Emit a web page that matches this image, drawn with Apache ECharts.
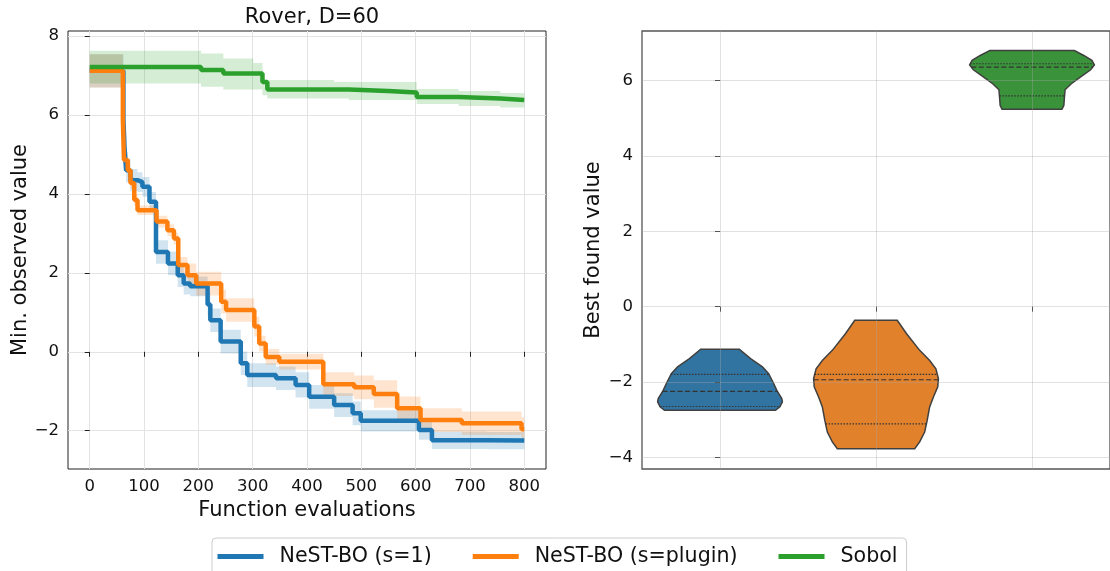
<!DOCTYPE html>
<html>
<head>
<meta charset="utf-8">
<style>
  html, body { margin: 0; padding: 0; background: #fff; }
  #chart { width: 1110px; height: 571px; }
</style>
<script src="https://cdn.jsdelivr.net/npm/echarts@6/dist/echarts.min.js"></script>
</head>
<body>
<div id="chart"></div>
<script>
// --- left panel: best-so-far curves (value holds from x until next x) ---
const blueX = [0, 62, 64, 67, 75, 88, 97, 110, 122, 144, 162, 173, 185, 217, 222, 241, 278, 290, 343, 379, 404, 450, 484, 499, 606, 630, 731, 800];
const blueY = [7.12, 5.9, 5.2, 4.6, 4.35, 4.3, 4.18, 3.8, 2.53, 2.24, 1.94, 1.73, 1.66, 1.2, 0.8, 0.26, -0.29, -0.59, -0.67, -0.84, -1.14, -1.35, -1.56, -1.75, -1.98, -2.24, -2.25, -2.25];
const blueSpread = [0.42, 0.4, 0.35, 0.3, 0.28, 0.25, 0.25, 0.25, 0.3, 0.3, 0.3, 0.28, 0.25, 0.3, 0.3, 0.3, 0.3, 0.3, 0.3, 0.32, 0.3, 0.3, 0.3, 0.27, 0.25, 0.22, 0.22, 0.22];

const orangeX = [0, 61, 63, 70, 75, 82, 88, 123, 143, 155, 163, 180, 196, 242, 251, 303, 312, 324, 349, 430, 487, 523, 566, 609, 685, 795, 800];
const orangeY = [7.12, 5.9, 4.86, 4.6, 4.28, 3.85, 3.59, 3.3, 3.08, 2.87, 2.2, 1.94, 1.73, 1.27, 1.06, 0.64, 0.21, -0.13, -0.25, -0.82, -0.9, -1.07, -1.43, -1.73, -1.81, -1.96, -1.96];
const orangeSpread = [0.42, 0.4, 0.2, 0.15, 0.15, 0.15, 0.12, 0.15, 0.15, 0.15, 0.2, 0.3, 0.3, 0.3, 0.3, 0.25, 0.2, 0.2, 0.2, 0.3, 0.3, 0.35, 0.3, 0.3, 0.3, 0.3, 0.3];

const greenX = [0, 205, 246, 301, 318, 327, 450, 477, 549, 602, 679, 756, 800];
const greenY = [7.22, 7.14, 7.05, 7.05, 6.84, 6.65, 6.65, 6.61, 6.57, 6.46, 6.42, 6.38, 6.38];
const greenHi = [7.63, 7.56, 7.43, 7.32, 6.89, 6.89, 6.84, 6.84, 6.84, 6.66, 6.61, 6.56, 6.56];
const greenLo = [6.8, 6.72, 6.65, 6.65, 6.5, 6.42, 6.42, 6.38, 6.38, 6.28, 6.23, 6.19, 6.19];

// --- right panel: violin outlines (value, relative half width) and quartiles ---
const violinCats = [0, 1, 2];
const blueVals = [-1.13, -1.38, -1.6, -1.78, -2.04, -2.22, -2.44, -2.53, -2.66, -2.75];
const blueWidths = [0.31, 0.49, 0.68, 0.78, 0.86, 0.91, 0.99, 1.0, 0.96, 0.89];
const blueQuart = [-1.8, -2.25, -2.65];
const orangeVals = [-0.36, -0.72, -1.16, -1.43, -1.65, -1.91, -2.13, -2.4, -2.66, -3.02, -3.33, -3.59, -3.77];
const orangeWidths = [0.34, 0.49, 0.7, 0.86, 0.96, 1.0, 0.99, 0.92, 0.86, 0.82, 0.78, 0.7, 0.62];
const orangeQuart = [-1.8, -1.94, -3.11];
const greenVals = [6.8, 6.67, 6.54, 6.42, 6.29, 6.1, 5.92, 5.76, 5.56, 5.34, 5.24];
const greenWidths = [0.68, 0.83, 0.96, 1.0, 0.94, 0.78, 0.63, 0.53, 0.52, 0.51, 0.48];
const greenQuart = [6.45, 6.36, 5.6];

const names = ['NeST-BO (s=1)', 'NeST-BO (s=plugin)', 'Sobol'];
const colors = ['#1f77b4', '#ff7f0e', '#2ca02c'];
const bandColors = ['rgba(31,119,180,0.2)', 'rgba(255,127,14,0.2)', 'rgba(44,160,44,0.2)'];
const violinColors = ['#3274a1', '#e1812c', '#3a923a'];

const bands = [
  { x: blueX, lo: blueY.map((y, i) => y - blueSpread[i]), hi: blueY.map((y, i) => y + blueSpread[i]) },
  { x: orangeX, lo: orangeY.map((y, i) => y - orangeSpread[i]), hi: orangeY.map((y, i) => y + orangeSpread[i]) },
  { x: greenX, lo: greenLo, hi: greenHi },
];

const violins = [
  { vals: blueVals, widths: blueWidths, quart: blueQuart },
  { vals: orangeVals, widths: orangeWidths, quart: orangeQuart },
  { vals: greenVals, widths: greenWidths, quart: greenQuart },
];

const FONT = 'DejaVu Sans';
const minus = v => String(v).replace('-', '\u2212');

function pairs(xs, ys) {
  return xs.map((x, i) => [x, ys[i]]);
}

// step-shaped confidence band, drawn as one polygon through the axes' scales
function renderBand(params, api) {
  const b = bands[params.dataIndex];
  const top = [], bottom = [];
  for (let i = 0; i < b.x.length; i++) {
    const x0 = b.x[i];
    const x1 = i + 1 < b.x.length ? b.x[i + 1] : b.x[i];
    top.push(api.coord([x0, b.hi[i]]), api.coord([x1, b.hi[i]]));
    bottom.push(api.coord([x0, b.lo[i]]), api.coord([x1, b.lo[i]]));
  }
  return {
    type: 'polygon',
    shape: { points: top.concat(bottom.reverse()) },
    style: { fill: bandColors[params.dataIndex] },
  };
}

function curve(name, xs, ys, color) {
  return {
    name: name, type: 'line', step: 'end', xAxisIndex: 0, yAxisIndex: 0,
    symbol: 'none', data: pairs(xs, ys), color: color,
    lineStyle: { width: 4.5, color: color }, z: 3,
  };
}

function widthAt(v, q) {
  for (let i = 0; i < v.vals.length - 1; i++) {
    const a = v.vals[i], b = v.vals[i + 1];
    if (q <= a && q >= b) {
      const t = (a - q) / (a - b);
      return v.widths[i] + t * (v.widths[i + 1] - v.widths[i]);
    }
  }
  return v.widths[0];
}

function renderViolin(params, api) {
  const v = violins[params.dataIndex];
  const idx = api.value(0);
  const half = api.size([1, 0])[0] * 0.4;
  const cx = api.coord([idx, 0])[0];
  const left = [], right = [];
  v.vals.forEach((val, i) => {
    const y = api.coord([idx, val])[1];
    left.push([cx - v.widths[i] * half, y]);
    right.push([cx + v.widths[i] * half, y]);
  });
  const children = [{
    type: 'polygon',
    shape: { points: left.concat(right.reverse()) },
    style: { fill: violinColors[params.dataIndex], stroke: '#404040', lineWidth: 1.5 },
  }];
  v.quart.forEach((q, k) => {
    const w = widthAt(v, q) * half;
    const y = api.coord([idx, q])[1];
    children.push({
      type: 'line',
      shape: { x1: cx - w, y1: y, x2: cx + w, y2: y },
      style: { stroke: '#333', lineWidth: 1.2, lineDash: k === 1 ? [5, 2.5] : [1.5, 1.5] },
    });
  });
  return { type: 'group', children: children };
}

const tickFont = { fontFamily: FONT, fontSize: 16.5, color: '#111' };
const nameFont = { fontFamily: FONT, fontSize: 21, color: '#111' };
const gridLine = { show: true, lineStyle: { color: '#e3e3e3', width: 1 } };
const lightGrid = { show: true, lineStyle: { color: 'rgba(170,170,170,0.35)', width: 1 } };

const chart = echarts.init(document.getElementById('chart'));
chart.setOption({
  backgroundColor: '#fff',
  animation: false,
  title: {
    text: 'Rover, D=60',
    left: 307, top: 2, textAlign: 'center',
    textStyle: { fontFamily: FONT, fontSize: 21, fontWeight: 'normal', color: '#111' },
  },
  legend: {
    data: names,
    left: 212, top: 538,
    icon: 'rect', itemWidth: 46, itemHeight: 5, itemGap: 41,
    padding: [8, 9, 20, 5.5],
    borderColor: '#cccccc', borderWidth: 1, borderRadius: 4,
    backgroundColor: '#fff',
    textStyle: { fontFamily: FONT, fontSize: 20.6, color: '#111', padding: [0, 0, 0, 11] },
  },
  grid: [
    { left: 68, top: 31, width: 478, height: 438, show: true, borderColor: '#222', borderWidth: 1, backgroundColor: 'transparent' },
    { left: 642, top: 31, width: 478, height: 438, show: true, borderColor: '#555', borderWidth: 1.3, backgroundColor: 'transparent' },
  ],
  xAxis: [
    {
      type: 'value', gridIndex: 0, min: -40, max: 840, splitNumber: 8,
      name: 'Function evaluations', nameLocation: 'middle', nameGap: 25,
      nameTextStyle: nameFont,
      axisLine: { show: false },
      axisTick: { show: true, length: 5, lineStyle: { color: '#222' }, customValues: [0, 100, 200, 300, 400, 500, 600, 700, 800] },
      axisLabel: Object.assign({ margin: 9, showMinLabel: false, showMaxLabel: false }, tickFont),
      splitLine: gridLine,
    },
    {
      type: 'value', gridIndex: 1, min: -0.5, max: 2.5, splitNumber: 3, z: 3,
      axisLine: { show: false },
      axisTick: { show: true, length: 5, lineStyle: { color: '#555' }, customValues: violinCats },
      axisLabel: { show: false },
      splitLine: lightGrid,
    },
  ],
  yAxis: [
    {
      type: 'value', gridIndex: 0, min: -2.97, max: 8.13,
      name: 'Min. observed value', nameLocation: 'middle', nameGap: 26,
      nameTextStyle: nameFont,
      axisLine: { show: false },
      axisTick: { show: true, length: 5, lineStyle: { color: '#222' }, customValues: [-2, 0, 2, 4, 6, 8] },
      axisLabel: Object.assign({ margin: 9, showMinLabel: false, showMaxLabel: false, formatter: minus }, tickFont),
      splitLine: gridLine,
    },
    {
      type: 'value', gridIndex: 1, min: -4.31, max: 7.32, z: 3,
      name: 'Best found value', nameLocation: 'middle', nameGap: 38,
      nameTextStyle: nameFont,
      axisLine: { show: false },
      axisTick: { show: true, length: 5, lineStyle: { color: '#555' }, customValues: [-4, -2, 0, 2, 4, 6] },
      axisLabel: Object.assign({ margin: 9, showMinLabel: false, showMaxLabel: false, formatter: minus }, tickFont),
      splitLine: lightGrid,
    },
  ],
  series: [
    {
      name: 'bands', type: 'custom', xAxisIndex: 0, yAxisIndex: 0,
      renderItem: renderBand, silent: true,
      data: bands.map(b => [b.x[0], b.lo[0]]),
      z: 1,
    },
    curve(names[0], blueX, blueY, colors[0]),
    curve(names[1], orangeX, orangeY, colors[1]),
    curve(names[2], greenX, greenY, colors[2]),
    {
      name: 'violins', type: 'custom', xAxisIndex: 1, yAxisIndex: 1,
      renderItem: renderViolin,
      data: violinCats.map(c => [c, violins[c].quart[1]]),
      z: 2,
    },
  ],
});
</script>
</body>
</html>
